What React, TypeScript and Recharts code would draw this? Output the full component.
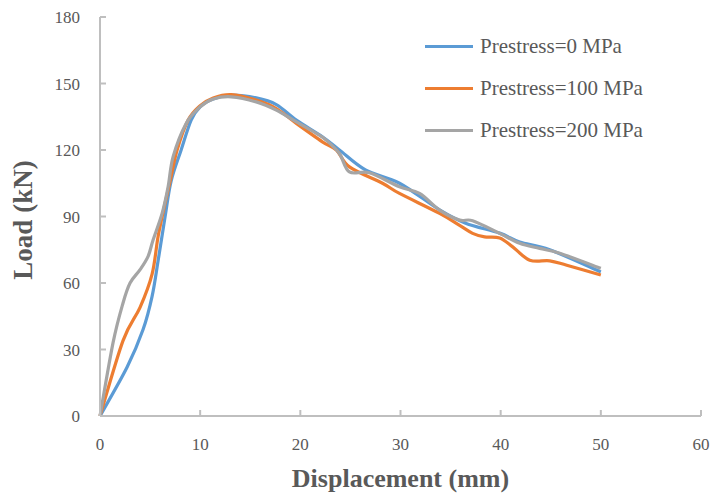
import React from 'react';
import { LineChart, Line, XAxis, YAxis } from 'recharts';

const seriesNames = ['Prestress=0 MPa', 'Prestress=100 MPa', 'Prestress=200 MPa'];
const seriesColors = ['#5B9BD5', '#ED7D31', '#A5A5A5'];

const x0 = [0, 2.7, 4.3, 5.2, 5.8, 6.5, 7.1, 8.1, 9.1, 10, 11.3, 13.1, 15.6, 17.6, 19.6, 22.2, 23.9, 26.5, 29.9, 33.9, 36.5, 39.9, 41.9, 44.9, 50];
const y0 = [0, 22, 39, 54, 70, 90, 106, 120, 133.5, 139.5, 143, 144.7, 143.5, 140.5, 133.5, 126, 120, 111, 105, 93, 87, 82.5, 78.5, 75, 65];

const x100 = [0, 2.3, 4, 5.2, 5.8, 6.5, 7, 7.7, 8.8, 10, 11.3, 13.1, 15.6, 17.6, 19.6, 22.2, 23.6, 24.9, 28.2, 29.9, 33.9, 35.9, 37.2, 38.4, 39.9, 41.2, 42.9, 44.9, 46.6, 50];
const y100 = [0, 34, 49, 64, 81, 96, 106, 120, 133.5, 140, 143.5, 145, 142.5, 138.7, 132, 123.7, 120, 112.4, 105, 100.4, 91.4, 86, 82.4, 80.8, 80.3, 76.3, 70.3, 70, 68, 63.6];

const x200 = [0, 1.3, 2.3, 3, 4, 4.8, 5.3, 6.2, 6.8, 7.3, 8.6, 10, 11.3, 13.1, 15.6, 17.6, 19.6, 21.6, 22.6, 23.9, 24.9, 26.9, 29.9, 31.9, 33.9, 35.9, 37.2, 39.9, 41.9, 43.9, 45.9, 50];
const y200 = [0, 33, 51, 60, 66, 72, 79.4, 91.4, 103.4, 117, 132, 139.5, 143, 144, 141.7, 138, 132.7, 127.5, 124.4, 118.4, 110.1, 109.7, 103.4, 100.4, 92.9, 88.4, 88.1, 82.4, 77.9, 75.6, 73.4, 66.6];

const xTicks = [0, 10, 20, 30, 40, 50, 60];
const yTicks = [0, 30, 60, 90, 120, 150, 180];

const xTitle = 'Displacement (mm)';
const yTitle = 'Load (kN)';

const zip = (xs: number[], ys: number[]) => xs.map((x, i) => ({ x, y: ys[i] }));
const seriesData = [zip(x0, y0), zip(x100, y100), zip(x200, y200)];

// Excel-like smoothed line (Catmull-Rom style Bezier through every point)
const smoothCurve = (context: any) => {
  let pts: number[][] = [];
  return {
    areaStart() {},
    areaEnd() {},
    lineStart() {
      pts = [];
    },
    point(x: number, y: number) {
      pts.push([+x, +y]);
    },
    lineEnd() {
      if (!pts.length) return;
      context.moveTo(pts[0][0], pts[0][1]);
      for (let i = 0; i < pts.length - 1; i++) {
        const p0 = pts[i - 1] || pts[i];
        const p1 = pts[i];
        const p2 = pts[i + 1];
        const p3 = pts[i + 2] || p2;
        context.bezierCurveTo(
          p1[0] + (p2[0] - p0[0]) / 6,
          p1[1] + (p2[1] - p0[1]) / 6,
          p2[0] - (p3[0] - p1[0]) / 6,
          p2[1] - (p3[1] - p1[1]) / 6,
          p2[0],
          p2[1]
        );
      }
    },
  };
};

const FONT = 'Liberation Serif, Tinos, DejaVu Serif, serif';
const AXIS = '#BFBFBF';
const TEXT = '#595959';

export default function App() {
  return (
    <div style={{ position: 'absolute', left: 0, top: 0, width: 714, height: 497, background: '#fff' }}>
      <LineChart width={714} height={497} margin={{ top: 17, right: 13, bottom: 0, left: 0 }}>
        <XAxis
          dataKey="x"
          type="number"
          domain={[0, 60]}
          ticks={xTicks}
          allowDuplicatedCategory={false}
          height={81}
          stroke={AXIS}
          strokeWidth={2}
          tickSize={-6}
          tickMargin={28}
          tick={{ fill: TEXT, fontSize: 17, fontFamily: FONT }}
          tickLine={{ stroke: AXIS, strokeWidth: 2 }}
          label={{
            content: () => (
              <text x={400.5} y={487} textAnchor="middle" fill={TEXT} style={{ fontFamily: FONT }} fontWeight="bold" fontSize={26}>
                {xTitle}
              </text>
            ),
          }}
        />
        <YAxis
          type="number"
          domain={[0, 180]}
          ticks={yTicks}
          width={100}
          stroke={AXIS}
          strokeWidth={2}
          tickSize={-6}
          tickMargin={26}
          tick={{ fill: TEXT, fontSize: 17, fontFamily: FONT }}
          tickLine={{ stroke: AXIS, strokeWidth: 2 }}
          label={{
            content: () => (
              <text
                x={32}
                y={220}
                transform="rotate(-90 32 220)"
                textAnchor="middle"
                fill={TEXT}
                style={{ fontFamily: FONT }}
                fontWeight="bold"
                fontSize={27}
              >
                {yTitle}
              </text>
            ),
          }}
        />
        {seriesData.map((d, i) => (
          <Line
            key={seriesNames[i]}
            data={d}
            dataKey="y"
            type={smoothCurve as any}
            stroke={seriesColors[i]}
            strokeWidth={3.2}
            dot={false}
            activeDot={false}
            isAnimationActive={false}
          />
        ))}
      </LineChart>
      <div style={{ position: 'absolute', left: 425, top: 26, fontFamily: FONT, fontSize: 21, color: TEXT }}>
        {seriesNames.map((n, i) => (
          <div key={n} style={{ display: 'flex', alignItems: 'center', height: 41.7 }}>
            <div style={{ width: 48, height: 3, background: seriesColors[i], marginRight: 7 }} />
            <span style={{ whiteSpace: 'nowrap' }}>{n}</span>
          </div>
        ))}
      </div>
    </div>
  );
}
